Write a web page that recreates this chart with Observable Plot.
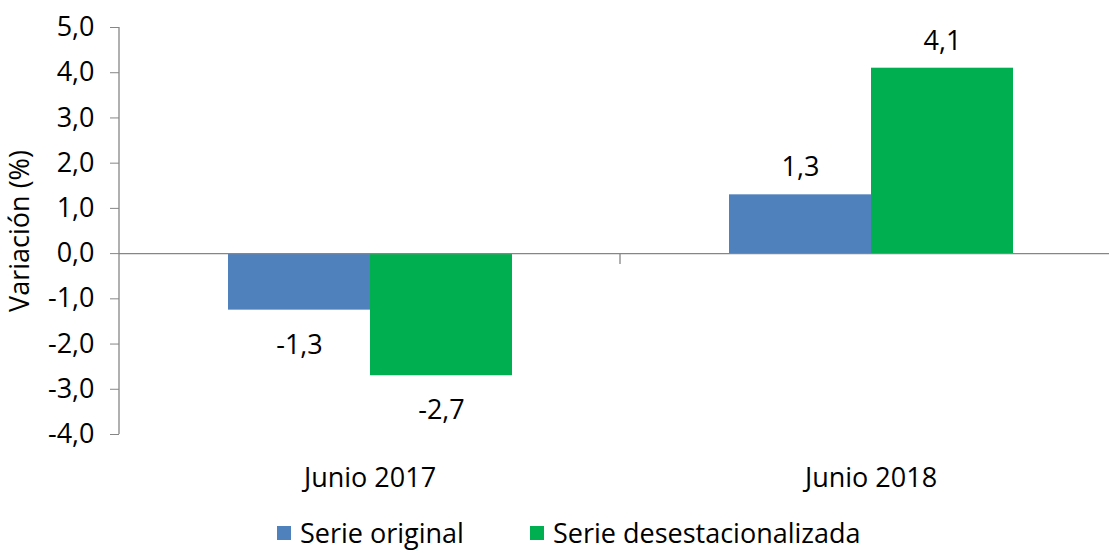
<!DOCTYPE html>
<html>
<head>
<meta charset="utf-8">
<script src="https://cdn.jsdelivr.net/npm/d3@7"></script>
<script src="https://cdn.jsdelivr.net/npm/@observablehq/plot@0.6"></script>
<style>
  html, body { margin: 0; padding: 0; background: #fff; }
  #chart { width: 1109px; height: 553px; overflow: hidden; position: relative; font-family: "Open Sans", sans-serif; }
  .legend { position: absolute; left: 277px; top: 514px; height: 38px; display: flex; align-items: center; font-size: 27px; line-height: 36px; color: #000; white-space: nowrap; }
  .legend .item { display: flex; align-items: center; }
  .legend .item + .item { margin-left: 66px; }
  .legend .sw { width: 14px; height: 14px; margin-right: 9px; }
</style>
</head>
<body>
<div id="chart"></div>
<script>
const categories = ["Junio 2017", "Junio 2018"];
const series = ["Serie original", "Serie desestacionalizada"];
const serieOriginal = [-1.25, 1.3];
const serieDesestacionalizada = [-2.7, 4.1];
const colors = ["#4F81BD", "#00B050"];
const yTicks = [-4, -3, -2, -1, 0, 1, 2, 3, 4, 5];

const data = [];
categories.forEach((c, i) => {
  data.push({category: c, series: series[0], value: serieOriginal[i]});
  data.push({category: c, series: series[1], value: serieDesestacionalizada[i]});
});

const fmt = d => d.toFixed(1).replace(".", ",");

let facetCounter = 0;
function guides(index, scales, values, dims) {
  const g = d3.create("svg:g");
  const which = index && index.fx !== undefined ? categories.indexOf(index.fx) : (facetCounter++ % categories.length);
  const x0 = dims.marginLeft;
  if (which === 0) {
    g.append("line")
      .attr("x1", x0).attr("x2", x0)
      .attr("y1", scales.y(d3.max(yTicks))).attr("y2", scales.y(d3.min(yTicks)))
      .attr("stroke", "#868686").attr("stroke-width", 1.3);
  } else {
    g.append("line")
      .attr("x1", x0).attr("x2", x0)
      .attr("y1", scales.y(0)).attr("y2", scales.y(0) + 11)
      .attr("stroke", "#868686").attr("stroke-width", 1.3);
  }
  return g.node();
}

const FS = 27;

const chart = Plot.plot({
  width: 1109,
  height: 505,
  marginLeft: 119,
  marginRight: -12,
  marginTop: 27,
  marginBottom: 71,
  style: {fontFamily: "Open Sans, sans-serif", fontSize: FS + "px", color: "#000", background: "#fff"},
  fx: {domain: categories, padding: 0, label: null},
  x: {domain: series, paddingInner: 0, paddingOuter: 0.752, axis: null},
  y: {domain: [-4, 5], label: null},
  color: {domain: series, range: colors},
  marks: [
    Plot.barY(data, {fx: "category", x: "series", y: "value", fill: "series"}),
    Plot.ruleY([0], {stroke: "#868686", strokeWidth: 1.3}),
    guides,
    Plot.axisY({ticks: yTicks, tickFormat: fmt, tickSize: 9, tickPadding: 16, stroke: "#868686", label: "Variación (%)", labelAnchor: "center", labelArrow: "none", labelOffset: 110, fontSize: FS}),
    Plot.axisFx({anchor: "bottom", tickSize: 0, tickPadding: 33, fontSize: FS, label: null}),
    Plot.text(data.filter(d => d.value >= 0), {fx: "category", x: "series", y: "value", text: d => fmt(d.value), dy: -27, fontSize: FS}),
    Plot.text(data.filter(d => d.value < 0), {fx: "category", x: "series", y: "value", text: d => fmt(d.value), dy: 35, fontSize: FS})
  ]
});

const root = document.getElementById("chart");
root.appendChild(chart);

const legend = document.createElement("div");
legend.className = "legend";
series.forEach((s, i) => {
  const item = document.createElement("div");
  item.className = "item";
  const sw = document.createElement("div");
  sw.className = "sw";
  sw.style.background = colors[i];
  const t = document.createElement("span");
  t.textContent = s;
  item.appendChild(sw);
  item.appendChild(t);
  legend.appendChild(item);
});
root.appendChild(legend);
</script>
</body>
</html>
